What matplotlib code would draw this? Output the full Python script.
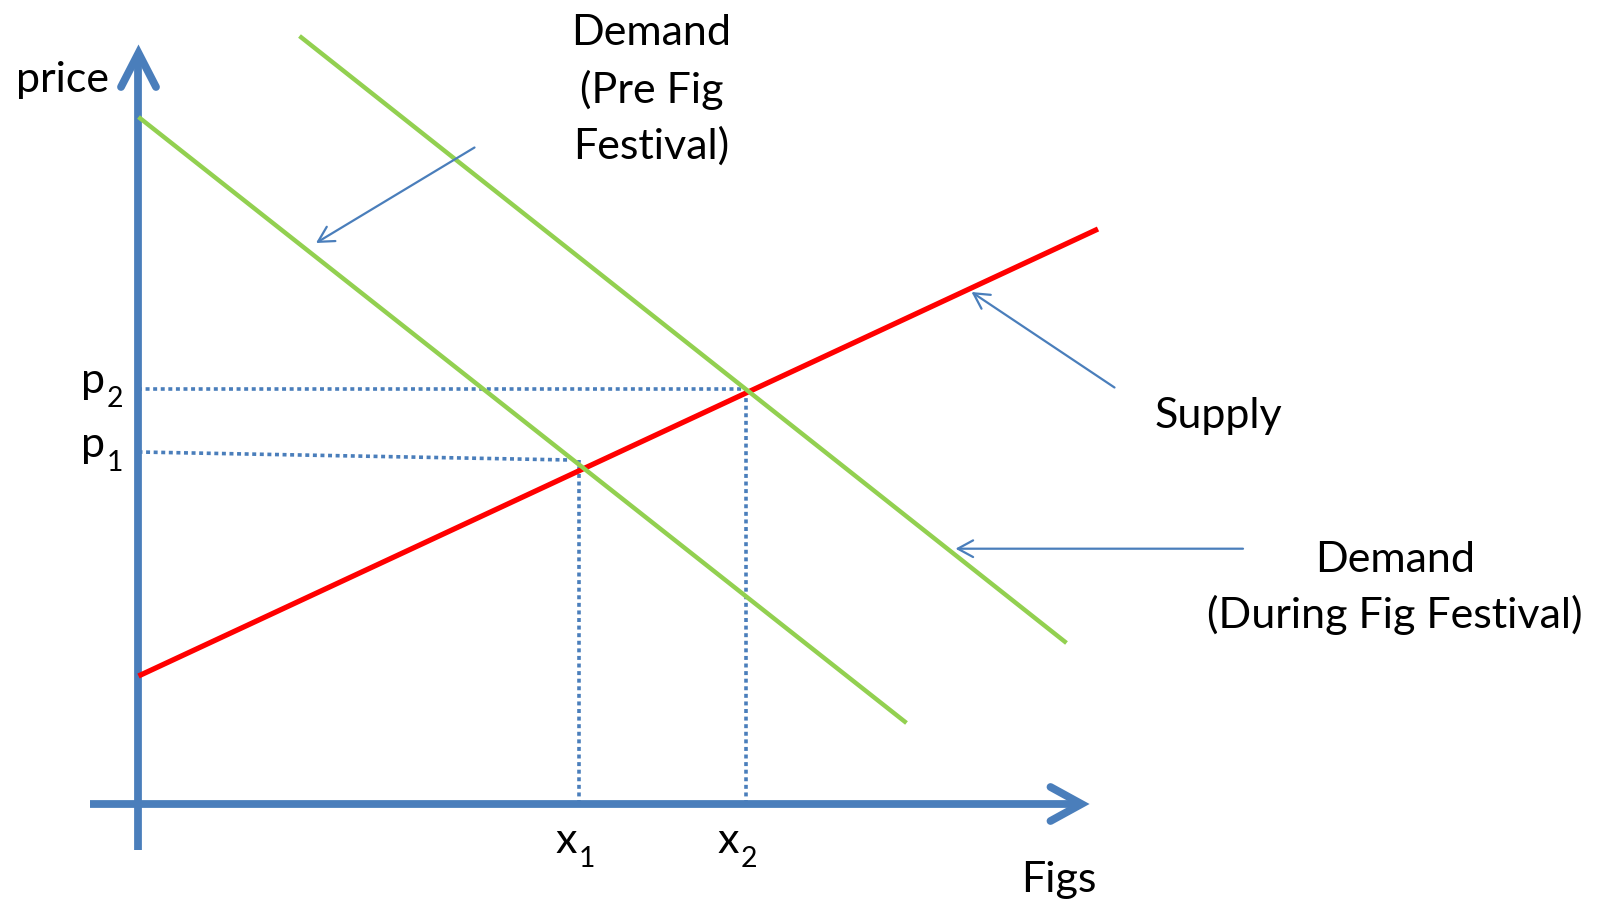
import matplotlib
matplotlib.use("Agg")
import matplotlib.pyplot as plt

# Quantity (figs) and price coordinates of each curve, in chart units
supply_q = [0.0, 9.595]
supply_p = [1.28, 5.75]

demand_pre_q = [0.0, 7.68]
demand_pre_p = [6.87, 0.81]

demand_fest_q = [1.61, 9.28]
demand_fest_p = [7.68, 1.61]

# Equilibrium guide lines
p1_guide_q = [0.0, 4.32]
p1_guide_p = [3.52, 3.44]
p2_guide_q = [0.0, 6.08]
p2_guide_p = [4.15, 4.15]
x1_guide_q = [4.405, 4.405]
x1_guide_p = [0.0, 3.44]
x2_guide_q = [6.08, 6.08]
x2_guide_p = [0.0, 4.15]

# Axis extents
x_axis_q = [-0.485, 9.43]
y_axis_p = [-0.46, 7.51]

# Callout arrows: (start, end)
pre_arrow = ((3.36, 6.565), (1.775, 5.61))
supply_arrow = ((9.76, 4.165), (8.33, 5.12))
fest_arrow = ((11.045, 2.553), (8.17, 2.553))

# Subscripted axis labels: (base, subscript, right edge of base, baseline)
sub_labels = [
    ("p", "2", -0.335, 4.12),
    ("p", "1", -0.335, 3.48),
    ("x", "1", 4.385, -0.48),
    ("x", "2", 6.005, -0.48),
]

BLUE = "#4A7EBB"
GREEN = "#92D050"
RED = "#FF0000"
FONT = "Lato"
FS = 31

plt.rcParams["font.family"] = [FONT, "DejaVu Sans"]

fig = plt.figure(figsize=(16.08, 9.04), dpi=100)
ax = fig.add_axes([0, 0, 1, 1])
ax.set_xlim(-1.385, 14.695)
ax.set_ylim(-0.99, 8.05)
ax.axis("off")

# Dotted guides
dot = dict(color=BLUE, lw=2.6, linestyle=(0, (1.1, 1.0)), dash_capstyle="butt", zorder=1)
ax.plot(p1_guide_q, p1_guide_p, **dot)
ax.plot(p2_guide_q, p2_guide_p, **dot)
ax.plot(x1_guide_q, x1_guide_p, **dot)
ax.plot(x2_guide_q, x2_guide_p, **dot)

# Axes with open chevron heads
axis_kw = dict(color=BLUE, lw=5.6, solid_capstyle="butt", zorder=2)
ax.plot(x_axis_q, [0, 0], **axis_kw)
ax.plot([0, 0], y_axis_p, **axis_kw)
head_kw = dict(color=BLUE, lw=5.6, solid_capstyle="round", solid_joinstyle="miter", zorder=2)
tx = x_axis_q[1]
ax.plot([tx - 0.31, tx, tx - 0.31], [0.17, 0, -0.17], **head_kw)
ty = y_axis_p[1]
ax.plot([-0.175, 0, 0.175], [ty - 0.34, ty, ty - 0.34], **head_kw)

# Supply and demand curves
ax.plot(supply_q, supply_p, color=RED, lw=3.8, solid_capstyle="butt", zorder=3)
ax.plot(demand_pre_q, demand_pre_p, color=GREEN, lw=3.2, solid_capstyle="butt", zorder=4)
ax.plot(demand_fest_q, demand_fest_p, color=GREEN, lw=3.2, solid_capstyle="butt", zorder=4)

# Callout arrows
for start, end in (pre_arrow, supply_arrow, fest_arrow):
    ax.annotate("", xy=end, xytext=start,
                arrowprops=dict(arrowstyle="->,head_length=0.55,head_width=0.3",
                                color=BLUE, lw=1.6, mutation_scale=20,
                                shrinkA=0, shrinkB=0),
                zorder=5)

# Labels
txt = dict(fontsize=FS, color="black", ha="center", va="center")
ax.text(-0.76, 7.25, "price", **txt)
ax.text(5.13, 7.15, "Demand\n(Pre Fig\nFestival)", linespacing=1.53, **txt)
ax.text(10.80, 3.89, "Supply", **txt)
ax.text(12.565, 2.17, "Demand\n(During Fig Festival)", linespacing=1.5, **txt)
ax.text(9.205, -0.75, "Figs", **txt)

for base, sub, xr, yb in sub_labels:
    ax.text(xr, yb, base, fontsize=FS, ha="right", va="baseline")
    ax.annotate(sub, xy=(xr, yb), xytext=(1.5, -10), textcoords="offset points",
                fontsize=FS * 0.66, ha="left", va="baseline")

fig.savefig("out.png", dpi=100)
